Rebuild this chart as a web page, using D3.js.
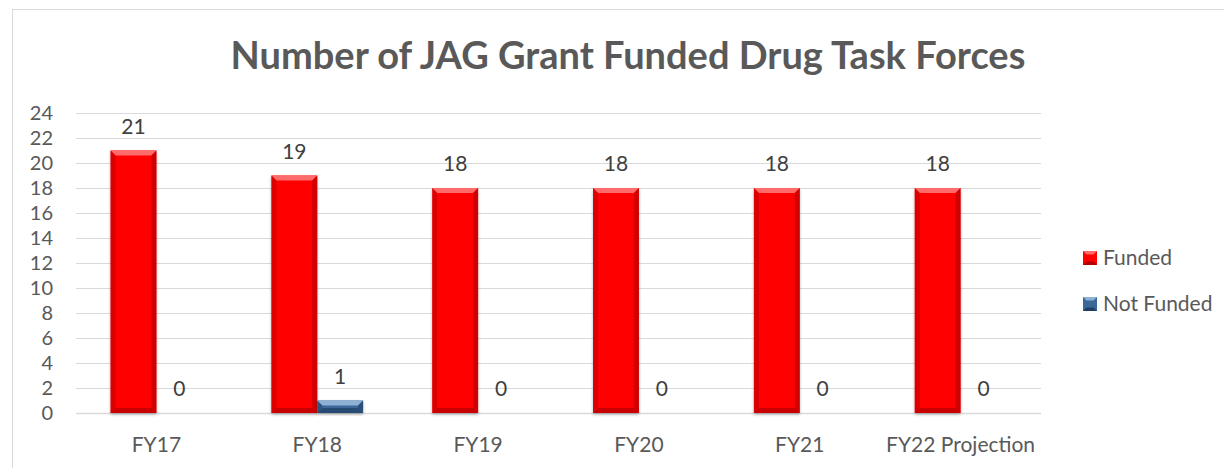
<!DOCTYPE html>
<html>
<head>
<meta charset="utf-8">
<script src="https://cdn.jsdelivr.net/npm/d3@7"></script>
<style>
  body { margin: 0; background: #fff; }
  svg text { font-family: Lato, "Open Sans", sans-serif; }
</style>
</head>
<body>
<div class="wrapper"></div>
<script>
var categories = ["FY17", "FY18", "FY19", "FY20", "FY21", "FY22 Projection"];
var seriesNames = ["Funded", "Not Funded"];
var funded = [21, 19, 18, 18, 18, 18];
var notFunded = [0, 1, 0, 0, 0, 0];
var yTicks = d3.range(0, 25, 2);

var WIDTH = 1224, HEIGHT = 468,
	PLOT_LEFT = 76, PLOT_RIGHT = 1041,
	PLOT_TOP = 113, PLOT_BOTTOM = 413,
	FONT = 21;

var colors = {"Funded": "#ff0000", "Not Funded": "#3a6898"};
var edge = {"Funded": "#b00000", "Not Funded": "#1f3f62"};
var hilite = {"Funded": "#ff6a6a", "Not Funded": "#8db0d4"};

var svg = d3.select(".wrapper")
	.append("svg")
		.attr("width", WIDTH)
		.attr("height", HEIGHT);

// chart frame
svg.append("rect")
	.attr("x", 12.5).attr("y", 9.5)
	.attr("width", WIDTH).attr("height", HEIGHT)
	.attr("fill", "#fff")
	.attr("stroke", "#d9d9d9");

svg.append("text")
	.attr("x", 628).attr("y", 69)
	.attr("text-anchor", "middle")
	.attr("font-size", 38)
	.attr("font-weight", "bold")
	.attr("fill", "#595959")
	.text("Number of JAG Grant Funded Drug Task Forces");

var x = d3.scaleBand()
	.domain(categories)
	.range([PLOT_LEFT, PLOT_RIGHT])
	.paddingInner(0.43)
	.paddingOuter(0.215);

var xs = d3.scaleBand()
	.domain(seriesNames)
	.range([0, x.bandwidth()]);

var y = d3.scaleLinear()
	.domain([0, 24])
	.range([PLOT_BOTTOM, PLOT_TOP]);

// gridlines
svg.append("g")
	.selectAll("line")
	.data(yTicks)
	.enter()
	.append("line")
		.attr("x1", PLOT_LEFT).attr("x2", PLOT_RIGHT)
		.attr("y1", function(d) {return Math.round(y(d)) + 0.5;})
		.attr("y2", function(d) {return Math.round(y(d)) + 0.5;})
		.attr("stroke", "#d9d9d9")
		.attr("stroke-width", function(d) {return d === 0 ? 1.5 : 1;});

// y axis labels
var yAxis = d3.axisLeft(y).tickValues(yTicks).tickSize(0).tickPadding(0);
var gy = svg.append("g")
	.attr("transform", "translate(" + 53 + ",0)")
	.call(yAxis);
gy.select(".domain").remove();
gy.selectAll("text")
	.attr("font-size", 20)
	.attr("fill", "#595959")
	.style("font-family", "Lato, sans-serif");

// x axis labels
var xAxis = d3.axisBottom(x).tickSize(0).tickPadding(0);
var gx = svg.append("g")
	.attr("transform", "translate(0," + 452 + ")")
	.call(xAxis);
gx.select(".domain").remove();
gx.selectAll("text")
	.attr("dy", 0)
	.attr("font-size", FONT)
	.attr("fill", "#595959")
	.style("font-family", "Lato, sans-serif");

var rows = categories.map(function(c, i) {
	return {cat: c, values: [
		{name: "Funded", value: funded[i]},
		{name: "Not Funded", value: notFunded[i]}
	]};
});

var defs = svg.append("defs");
defs.append("filter").attr("id", "shadow")
	.attr("x", "-20%").attr("y", "-10%").attr("width", "140%").attr("height", "130%")
	.append("feDropShadow")
		.attr("dx", 0).attr("dy", 1.5)
		.attr("stdDeviation", 1.5)
		.attr("flood-color", "#000")
		.attr("flood-opacity", 0.3);

var groups = svg.append("g").selectAll("g")
	.data(rows)
	.enter()
	.append("g")
		.attr("transform", function(d) {return "translate(" + x(d.cat) + ",0)";});

var cells = groups.selectAll("g")
	.data(function(d) {return d.values;})
	.enter()
	.append("g");

var BEV = 5;

cells.filter(function(d) {return d.value > 0;})
	.each(function(d) {
		var g = d3.select(this),
			x0 = xs(d.name),
			w = xs.bandwidth(),
			y0 = y(d.value),
			h = y(0) - y(d.value),
			b = Math.min(BEV, h / 2);
		g.append("rect")
			.attr("x", x0).attr("y", y0)
			.attr("width", w).attr("height", h)
			.attr("fill", colors[d.name])
			.attr("filter", "url(#shadow)");
		// top bevel
		g.append("path")
			.attr("d", "M" + x0 + "," + y0 + "L" + (x0 + w) + "," + y0 +
				"L" + (x0 + w - b) + "," + (y0 + b) + "L" + (x0 + b) + "," + (y0 + b) + "Z")
			.attr("fill", hilite[d.name]);
		// side bevels
		g.append("path")
			.attr("d", "M" + x0 + "," + y0 + "L" + (x0 + b) + "," + (y0 + b) +
				"L" + (x0 + b) + "," + (y0 + h - b) + "L" + x0 + "," + (y0 + h) + "Z")
			.attr("fill", edge[d.name]).attr("opacity", 0.45);
		g.append("path")
			.attr("d", "M" + (x0 + w) + "," + y0 + "L" + (x0 + w - b) + "," + (y0 + b) +
				"L" + (x0 + w - b) + "," + (y0 + h - b) + "L" + (x0 + w) + "," + (y0 + h) + "Z")
			.attr("fill", edge[d.name]).attr("opacity", 0.6);
		g.append("path")
			.attr("d", "M" + x0 + "," + (y0 + h) + "L" + (x0 + b) + "," + (y0 + h - b) +
				"L" + (x0 + w - b) + "," + (y0 + h - b) + "L" + (x0 + w) + "," + (y0 + h) + "Z")
			.attr("fill", edge[d.name]).attr("opacity", 0.7);
	});

// data labels
cells.append("text")
	.attr("x", function(d) {return xs(d.name) + xs.bandwidth() / 2;})
	.attr("y", function(d) {return y(d.value) - 17;})
	.attr("text-anchor", "middle")
	.attr("font-size", FONT)
	.attr("fill", "#404040")
	.text(function(d) {return d.value;});

// legend
var legend = svg.append("g").selectAll("g")
	.data(seriesNames)
	.enter()
	.append("g")
		.attr("transform", function(d, i) {return "translate(1083," + (251 + i * 46) + ")";});

legend.append("rect")
	.attr("width", 14).attr("height", 14)
	.attr("fill", function(d) {return colors[d];});
legend.append("path")
	.attr("d", "M0,0L14,0L10.5,3.5L3.5,3.5Z")
	.attr("fill", function(d) {return hilite[d];});
legend.append("path")
	.attr("d", "M0,14L14,14L10.5,10.5L3.5,10.5Z")
	.attr("fill", function(d) {return edge[d];});

legend.append("text")
	.attr("x", 20).attr("y", 14)
	.attr("font-size", FONT)
	.attr("fill", "#595959")
	.text(function(d) {return d;});
</script>
</body>
</html>
